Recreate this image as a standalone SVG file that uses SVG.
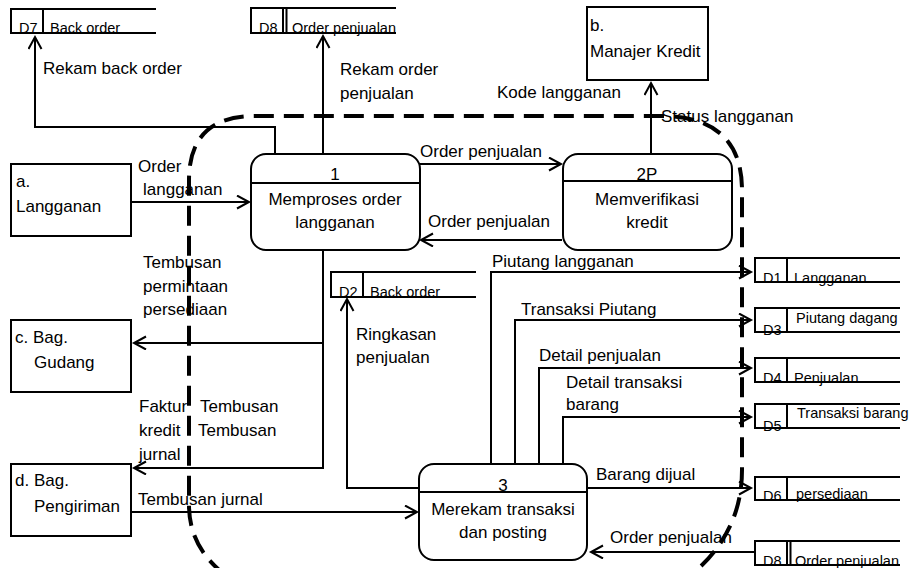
<svg xmlns="http://www.w3.org/2000/svg" width="913" height="568" viewBox="0 0 913 568">
<style>
text{font-family:"Liberation Sans",Arial,sans-serif;font-size:17px;fill:#000}
.s{font-size:14.5px}
.m{text-anchor:middle}
.box{fill:#fff;stroke:#000;stroke-width:2}
.ln{fill:none;stroke:#000;stroke-width:2}
.c{fill:none;stroke:#000;stroke-width:2;marker-end:url(#ah)}
.b{fill:none;stroke:#000;stroke-width:4;stroke-dasharray:20 10}
</style>
<defs>
<marker id="ah" markerUnits="userSpaceOnUse" markerWidth="16" markerHeight="16" viewBox="0 0 16 16" refX="13" refY="7" orient="auto">
<path d="M1,0.5 L13,7 L1,13.5" fill="none" stroke="#000" stroke-width="2"/>
</marker>
</defs>
<rect width="913" height="568" fill="#fff"/>
<g id="connectors">
<path class="c" d="M275,154 V127 H35 V37"/>
<path class="c" d="M323,154 V36"/>
<path class="c" d="M651,154 V83"/>
<path class="c" d="M131,202 H249"/>
<path class="c" d="M420,164 H561"/>
<path class="c" d="M562,240 H421"/>
<path class="c" d="M323,250 V468 H134"/>
<path class="c" d="M323,343 H134"/>
<path class="c" d="M131,512 H417"/>
<path class="c" d="M419,488 H347 V299"/>
<path class="c" d="M491,464 V272 H751"/>
<path class="c" d="M515,464 V320 H751"/>
<path class="c" d="M539,464 V368 H751"/>
<path class="c" d="M563,464 V417 H751"/>
<path class="c" d="M587,488 H751"/>
<path class="c" d="M755,552 H591"/>
</g>
<g id="labels">
<text x="43" y="74">Rekam back order</text>
<text x="340" y="75">Rekam order</text>
<text x="340" y="99">penjualan</text>
<text x="497" y="98">Kode langganan</text>
<text x="661" y="122">Status langganan</text>
<text x="138" y="172">Order</text>
<text x="143" y="195">langganan</text>
<text x="420" y="157">Order penjualan</text>
<text x="428" y="227">Order penjualan</text>
<text x="143" y="268">Tembusan</text>
<text x="143" y="292">permintaan</text>
<text x="143" y="315">persediaan</text>
<text x="139" y="412">Faktur</text>
<text x="200" y="412">Tembusan</text>
<text x="139" y="436">kredit</text>
<text x="198" y="436">Tembusan</text>
<text x="139" y="460">jurnal</text>
<text x="138" y="505">Tembusan jurnal</text>
<text x="356" y="340">Ringkasan</text>
<text x="356" y="363">penjualan</text>
<text x="492" y="267">Piutang langganan</text>
<text x="521" y="315">Transaksi Piutang</text>
<text x="539" y="361">Detail penjualan</text>
<text x="566" y="388">Detail transaksi</text>
<text x="566" y="410">barang</text>
<text x="596" y="480">Barang dijual</text>
<text x="610" y="543">Order penjualan</text>
</g>
<g id="ext-a"><rect class="box" x="11" y="164" width="120" height="72"/><text x="16" y="187">a.</text><text x="16" y="212">Langganan</text></g>
<g id="ext-b"><rect class="box" x="587" y="7" width="121" height="73"/><text x="590" y="31">b.</text><text x="590" y="57">Manajer Kredit</text></g>
<g id="ext-c"><rect class="box" x="11" y="320" width="120" height="72"/><text x="15" y="343">c.  Bag.</text><text x="34" y="368">Gudang</text></g>
<g id="ext-d"><rect class="box" x="11" y="464" width="120" height="72"/><text x="15" y="486">d. Bag.</text><text x="34" y="512">Pengiriman</text></g>
<g id="p1"><rect class="box" x="251" y="154" width="169" height="96" rx="15"/><path class="ln" d="M251,183 H420"/><text class="m" x="335" y="180">1</text><text class="m" x="335" y="205">Memproses order</text><text class="m" x="335" y="228">langganan</text></g>
<g id="p2"><rect class="box" x="563" y="154" width="169" height="96" rx="15"/><path class="ln" d="M563,181 H732"/><text class="m" x="647" y="180">2P</text><text class="m" x="647" y="205">Memverifikasi</text><text class="m" x="647" y="228">kredit</text></g>
<g id="p3"><rect class="box" x="419" y="464" width="168" height="96" rx="15"/><path class="ln" d="M419,492 H587"/><text class="m" x="503" y="491">3</text><text class="m" x="503" y="515">Merekam transaksi</text><text class="m" x="503" y="538">dan posting</text></g>
<g id="d7"><path class="ln" d="M156,9 H11 V33 H156 M43,9 V33"/><text class="s" x="19" y="33">D7</text><text class="s" x="50" y="33">Back order</text></g>
<g id="d8a"><path class="ln" d="M396,8 H251 V33 H396 M283,8 V33 M286.5,8 V33"/><text class="s" x="259" y="33">D8</text><text class="s" x="292" y="33">Order penjualan</text></g>
<g id="d2"><path class="ln" d="M476,272 H331 V297 H476 M363,272 V297"/><text class="s" x="339" y="297">D2</text><text class="s" x="370" y="297">Back order</text></g>
<g id="d1"><path class="ln" d="M900,258 H755 V282 H900 M787,258 V282"/><text class="s" x="763" y="283">D1</text><text class="s" x="794" y="283">Langganan</text></g>
<g id="d3"><path class="ln" d="M900,308 H755 V332 H900 M787,308 V332"/><text class="s" x="763" y="335">D3</text><text class="s" x="796" y="323">Piutang dagang</text></g>
<g id="d4"><path class="ln" d="M900,358 H755 V382 H900 M787,358 V382"/><text class="s" x="763" y="383">D4</text><text class="s" x="794" y="383">Penjualan</text></g>
<g id="d5"><path class="ln" d="M900,404 H755 V428 H900 M787,404 V428"/><text class="s" x="763" y="431">D5</text><text class="s" x="797" y="418">Transaksi barang</text></g>
<g id="d6"><path class="ln" d="M900,477 H755 V500 H900 M787,477 V500"/><text class="s" x="763" y="501">D6</text><text class="s" x="796" y="499">persediaan</text></g>
<g id="d8b"><path class="ln" d="M900,541 H755 V565 H900 M787,541 V565 M790.5,541 V565"/><text class="s" x="763" y="566">D8</text><text class="s" x="795" y="566">Order penjualan</text></g>
<path id="boundary" class="b" d="M250,590 Q189,560 189,505 L189,180 Q189,116 255,116 L660,116 Q742,116 742,190 L742,470 Q742,545 670,590"/>
</svg>
